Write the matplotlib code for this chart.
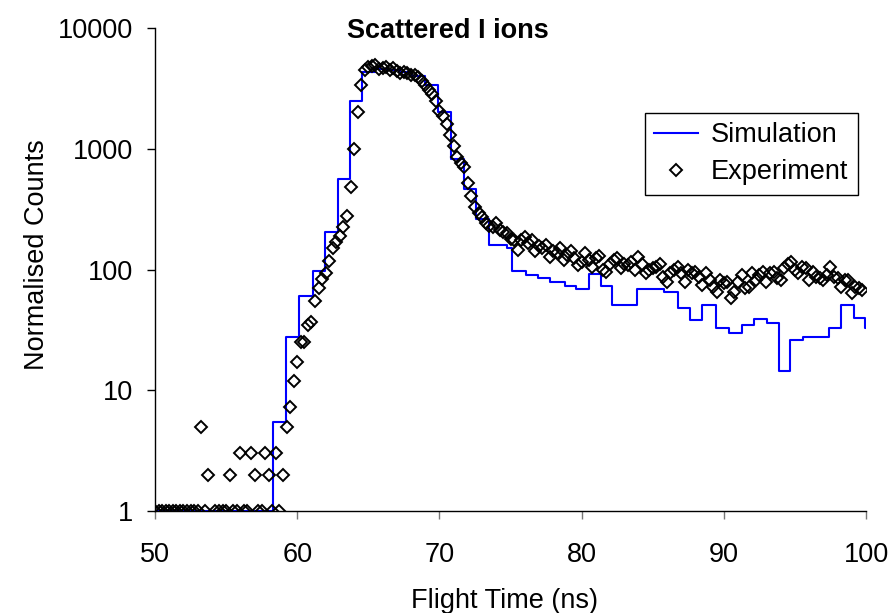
import numpy as np
import matplotlib
matplotlib.use("Agg")
import matplotlib.pyplot as plt
from matplotlib.ticker import FixedLocator, NullLocator, FixedFormatter

plt.rcParams["font.family"] = ["Liberation Sans", "DejaVu Sans"]

# Simulated spectrum: start time of each bin (ns) and its normalised counts
sim_time = [50.0, 58.32, 59.23, 60.14, 61.1, 61.96, 62.87, 63.71, 64.55,
            65.45, 66.29, 67.2, 68.1, 69.0, 69.93, 70.84, 71.72, 72.56,
            73.48, 74.74, 75.09, 76.08, 76.92, 77.76, 78.81, 79.58, 80.49,
            81.33, 82.17, 83.92, 85.8, 86.78, 87.62, 88.46, 89.44, 90.35,
            91.26, 92.1, 93.01, 93.85, 94.69, 95.59, 97.41, 98.25, 99.16,
            99.95, 100.0]
sim_counts = [1, 5.5, 27.5, 60, 97, 204, 560, 2500, 4300,
              4600, 4500, 4300, 4000, 3400, 2000, 820, 466, 260,
              160, 150, 97, 90, 85, 79, 73, 69, 91,
              73, 51, 69, 65, 48, 38, 51, 33, 30,
              35, 39, 36, 14.4, 26, 27.6, 33, 51, 40,
              33, 33]

# Measured spectrum, one value per 0.25 ns channel starting at 50 ns (0 = empty)
exp_counts = [
    1, 1, 1, 1, 1, 1, 1, 1, 1, 1, 1, 1, 1, 5, 1, 2, 0, 1, 1, 1,
    1, 2, 1, 1, 3, 1, 1, 3, 2, 1, 1, 3, 2, 1, 3, 1, 2, 5, 7.3, 12,
    17, 25, 25, 35, 37, 55, 70, 83, 94, 118, 150, 169, 189, 225, 280, 480, 1000, 2000, 3400, 4500,
    4780, 4840, 4940, 4550, 4640, 4780, 4500, 4640, 4400, 4230, 4350, 4230, 4080, 4080, 3900, 3650, 3350, 3070, 2850, 2500,
    2050, 1850, 1600, 1300, 1050, 860, 760, 700, 520, 410, 330, 295, 274, 245, 230, 226, 244, 212, 206, 199,
    180, 176, 145, 176, 187, 165, 175, 141, 158, 150, 160, 128, 141, 136, 150, 120, 132, 141, 124, 109,
    116, 136, 120, 105, 124, 129, 99, 96, 112, 120, 124, 102, 112, 109, 116, 99, 128, 112, 93, 99,
    102, 105, 112, 87, 79, 93, 99, 105, 93, 79, 99, 93, 96, 87, 74, 93, 82, 72, 65, 82,
    77, 79, 58, 65, 79, 90, 70, 72, 93, 82, 90, 96, 79, 93, 96, 85, 82, 102, 112, 116,
    99, 93, 105, 102, 82, 96, 87, 85, 82, 90, 105, 87, 85, 72, 82, 82, 64, 72, 70, 68,
]
exp_time = 50.0 + 0.25 * np.arange(len(exp_counts))

y_ticks = [1, 10, 100, 1000, 10000]
y_labels = ["1", "10", "100", "1000", "10000"]
x_ticks = [50, 60, 70, 80, 90, 100]

fs = 19.5
fig = plt.figure(figsize=(8.88, 6.13), dpi=100)
ax = fig.add_axes([155 / 888, 1 - 511 / 613, 711 / 888, 483 / 613])

exp_counts = np.array(exp_counts, dtype=float)
shown = exp_counts > 0

ax.step(sim_time, sim_counts, where="post", color="#0000ff", lw=1.5,
        label="Simulation", zorder=2)
ax.plot(exp_time[shown], exp_counts[shown], ls="none", marker="D", ms=6.3,
        mfc="none", mec="black", mew=1.4, label="Experiment", zorder=3)

ax.set_yscale("log")
ax.set_ylim(1, 10000)
ax.set_xlim(50, 100)
ax.yaxis.set_major_locator(FixedLocator(y_ticks))
ax.yaxis.set_major_formatter(FixedFormatter(y_labels))
ax.yaxis.set_minor_locator(NullLocator())
ax.set_xticks(x_ticks)

for side in ("top", "right"):
    ax.spines[side].set_visible(False)
for side in ("left", "bottom"):
    ax.spines[side].set_linewidth(1.0)
ax.tick_params(axis="y", direction="out", length=6, width=1.0, pad=10, labelsize=fs)
ax.tick_params(axis="x", direction="out", length=6, width=1.0, pad=16, labelsize=fs,
               color="#777777")

ax.set_xlabel("Flight Time (ns)", fontsize=fs)
ax.set_ylabel("Normalised Counts", fontsize=fs)
ax.xaxis.set_label_coords(0.492, -0.16)
ax.yaxis.set_label_coords(-0.147, 0.53)

fig.text(448 / 888, 1 - 31 / 613, "Scattered I ions", fontsize=fs,
         fontweight="bold", ha="center", va="center")

leg = ax.legend(loc="upper left", bbox_to_anchor=(0.689, 0.824), fontsize=fs,
                frameon=True, fancybox=False, edgecolor="black", framealpha=1,
                handlelength=1.6, handletextpad=0.5, borderpad=0.35,
                labelspacing=0.4, borderaxespad=0)
leg.get_frame().set_linewidth(1.0)

fig.savefig("out.png", dpi=100)
